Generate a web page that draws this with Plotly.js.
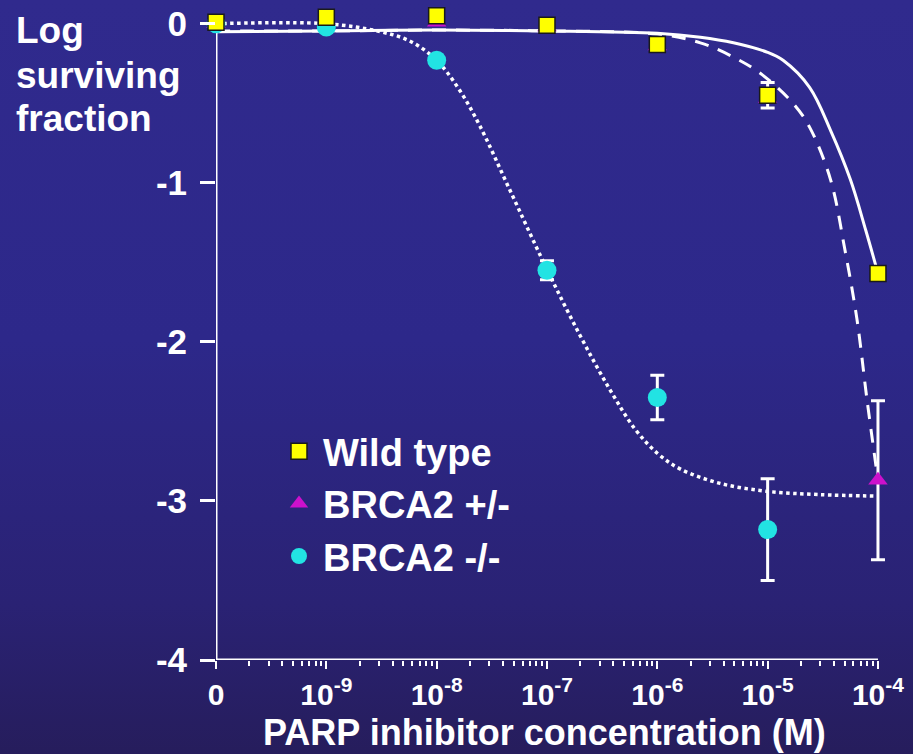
<!DOCTYPE html>
<html>
<head>
<meta charset="utf-8">
<script src="https://cdn.plot.ly/plotly-3.0.1.min.js"></script>
<style>
html,body{margin:0;padding:0;}
body{width:913px;height:754px;background:linear-gradient(180deg,#302a8d 0%,#2d288a 45%,#2a2274 80%,#261d5c 100%);}
#chart{width:913px;height:754px;}
</style>
</head>
<body>
<div id="chart"></div>
<script>
// log10 concentration; -10 stands for the "0" (no drug) point
const conc = [-10, -9, -8, -7, -6, -5, -4];
const tickVals = [-10, -9, -8, -7, -6, -5, -4];
const tickText = ['0', '10<sup>-9</sup>', '10<sup>-8</sup>', '10<sup>-7</sup>', '10<sup>-6</sup>', '10<sup>-5</sup>', '10<sup>-4</sup>'];
const yTickVals = [0, -1, -2, -3, -4];
const yTickText = ['0', '-1', '-2', '-3', '-4'];

const wildType = [0.01, 0.04, 0.05, -0.01, -0.13, -0.45, -1.57];
const wildTypeErr = [0, 0, 0, 0.02, 0.04, 0.08, 0.02];

const brcaHet = [0.0, 0.02, 0.01, -0.02, -0.14, -0.47, -2.87];
const brcaHetErr = [0, 0, 0, 0, 0, 0, 0.5];

const concNull = [-10, -9, -8, -7, -6, -5];
const brcaNull = [0.0, -0.02, -0.23, -1.55, -2.35, -3.18];
const brcaNullErr = [0, 0, 0.02, 0.06, 0.14, 0.32];

// fitted curves
const fitWtX = [-10, -9, -8, -7, -6, -5.61, -5.31, -5.0, -4.86, -4.62, -4.43, -4.25, -4.11, -4.0];
const fitWtY = [-0.05, -0.045, -0.04, -0.045, -0.06, -0.085, -0.12, -0.18, -0.23, -0.40, -0.67, -0.98, -1.30, -1.57];

const fitHetX = [-10, -9, -8, -7, -6, -5.61, -5.31, -5.07, -4.77, -4.62, -4.43, -4.30, -4.19, -4.10, -4.0];
const fitHetY = [-0.045, -0.045, -0.04, -0.045, -0.065, -0.12, -0.21, -0.31, -0.50, -0.65, -0.98, -1.42, -1.86, -2.36, -2.87];

const fitNullX = [-10, -9, -8.51, -8.24, -8.0, -7.79, -7.61, -7.34, -7.01, -6.70, -6.43, -6.2, -6.0, -5.79, -5.43, -5.0, -4.53, -4.0];
const fitNullY = [0.0, 0.0, -0.05, -0.11, -0.23, -0.42, -0.64, -1.04, -1.53, -1.96, -2.30, -2.55, -2.70, -2.80, -2.89, -2.94, -2.96, -2.97];

const xTitle = 'PARP inhibitor concentration (M)';
const yTitleLines = ['Log', 'surviving', 'fraction'];

const minorTicks = [];
for (const d of [-10, -9, -8, -7, -6, -5]) {
  for (let k = 2; k <= 9; k++) minorTicks.push(d + Math.log10(k));
}

const F = '"Liberation Sans", Arial, sans-serif';
const errStyle = (arr) => ({type: 'data', array: arr, visible: true, color: 'white', thickness: 3, width: 7});

const traces = [
  {x: fitNullX, y: fitNullY, mode: 'lines', line: {color: 'white', width: 3.5, dash: 'dot', shape: 'spline', smoothing: 1}, showlegend: false, hoverinfo: 'skip'},
  {x: fitHetX, y: fitHetY, mode: 'lines', line: {color: 'white', width: 3, dash: '14px,10px', shape: 'spline', smoothing: 1}, showlegend: false, hoverinfo: 'skip'},
  {x: fitWtX, y: fitWtY, mode: 'lines', line: {color: 'white', width: 3, shape: 'spline', smoothing: 1}, showlegend: false, hoverinfo: 'skip'},
  {x: conc, y: brcaHet, name: 'BRCA2 +/-', mode: 'markers', legendrank: 2,
   marker: {symbol: 'triangle-up', size: 17, color: '#cc11cc'}, error_y: errStyle(brcaHetErr), cliponaxis: false},
  {x: concNull, y: brcaNull, name: 'BRCA2 -/-', mode: 'markers', legendrank: 3,
   marker: {symbol: 'circle', size: 19, color: '#22e3e3'}, error_y: errStyle(brcaNullErr), cliponaxis: false},
  {x: conc, y: wildType, name: 'Wild type', mode: 'markers', legendrank: 1,
   marker: {symbol: 'square', size: 16, color: '#ffff00', line: {color: '#1a1a1a', width: 1.5}}, error_y: errStyle(wildTypeErr), cliponaxis: false},
  {x: [-10], y: [-5], xaxis: 'x2', mode: 'markers', showlegend: false, hoverinfo: 'skip', marker: {opacity: 0}}
];

const py2p = (py) => (660 - py) / 649; // paper y from pixel row (plot spans rows 11..660)
const px2p = (px) => (px - 216) / 673; // paper x from pixel column (plot spans 216..889)

const layout = {
  width: 913, height: 754,
  paper_bgcolor: 'rgba(0,0,0,0)', plot_bgcolor: 'rgba(0,0,0,0)',
  margin: {l: 216, r: 24, t: 11, b: 94},
  font: {family: F, color: 'white', size: 32, weight: 'bold'},
  showlegend: true,
  legend: {x: px2p(275), y: py2p(420), xanchor: 'left', yanchor: 'top', bgcolor: 'rgba(0,0,0,0)',
           font: {family: F, size: 38, color: 'white', weight: 'bold'}, tracegroupgap: 5, traceorder: 'normal', itemwidth: 38},
  xaxis: {range: [-10, -3.9], showgrid: false, zeroline: false, showline: false,
          tickmode: 'array', tickvals: tickVals, ticktext: tickText, ticks: 'outside', ticklen: 8, tickwidth: 2, tickcolor: 'white',
          tickfont: {family: F, size: 30, color: 'white', weight: 'bold'}},
  xaxis2: {overlaying: 'x', anchor: 'y', side: 'bottom', range: [-10, -3.9], showgrid: false, zeroline: false, showline: false,
           tickmode: 'array', tickvals: minorTicks, ticks: 'outside', ticklen: 5, tickwidth: 2, tickcolor: 'white', showticklabels: false},
  yaxis: {range: [-4, 0.08], showgrid: false, zeroline: false, showline: false,
          tickmode: 'array', tickvals: yTickVals, ticktext: yTickText, ticks: 'outside', ticklen: 15, tickwidth: 3, tickcolor: 'white',
          tickfont: {family: F, size: 35, color: 'white', weight: 'bold'}, ticklabelstandoff: 6},
  shapes: [
    {type: 'line', layer: 'below', xref: 'x', yref: 'y', x0: tickVals[0], x1: tickVals[tickVals.length - 1], y0: yTickVals[4], y1: yTickVals[4], line: {color: 'white', width: 3}},
    {type: 'line', layer: 'below', xref: 'x', yref: 'y', x0: tickVals[0], x1: tickVals[0], y0: yTickVals[4], y1: yTickVals[0], line: {color: 'white', width: 3}}
  ],
  annotations: [
    ...yTitleLines.map((t, i) => ({text: t, xref: 'paper', yref: 'paper', x: px2p(14), y: py2p([30, 75, 118][i]),
               xanchor: 'left', yanchor: 'middle', showarrow: false, font: {family: F, size: 37, color: 'white', weight: 'bold'}})),
    {text: xTitle, xref: 'paper', yref: 'paper', x: px2p(544), y: py2p(754), xanchor: 'center', yanchor: 'bottom', borderpad: 0,
     showarrow: false, font: {family: F, size: 36, color: 'white', weight: 'bold'}}
  ]
};

Plotly.newPlot('chart', traces, layout, {displayModeBar: false, staticPlot: true});
</script>
</body>
</html>
